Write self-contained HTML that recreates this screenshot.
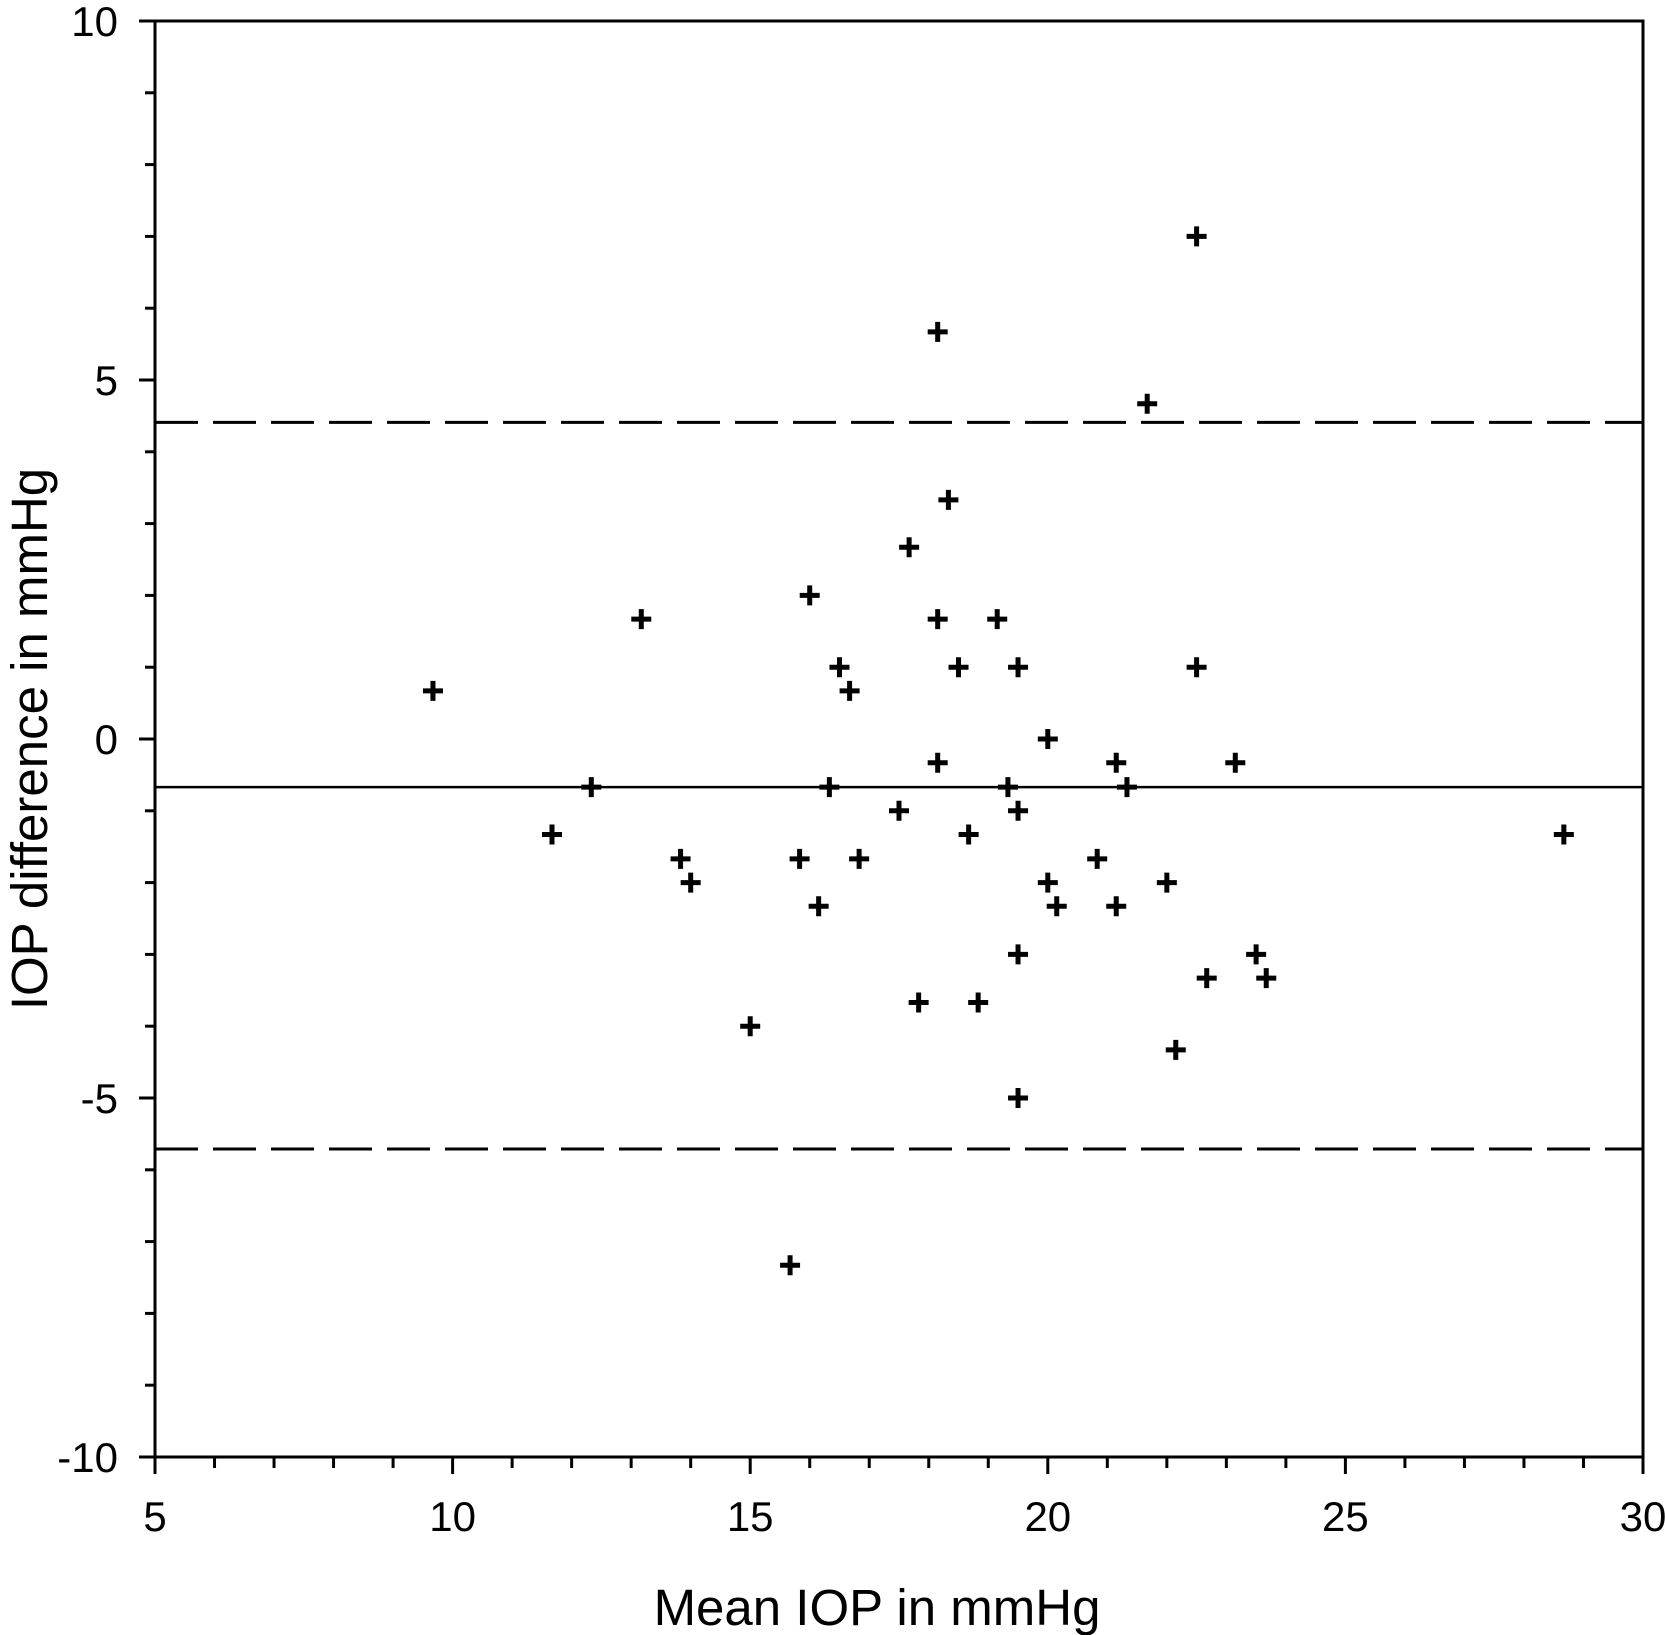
<!DOCTYPE html>
<html><head><meta charset="utf-8"><style>
html,body{margin:0;padding:0;background:#fff;}
svg{display:block;}
text{font-family:"Liberation Sans",Arial,sans-serif;fill:#000;}
</style></head><body>
<svg id="chart" width="1665" height="1635" viewBox="0 0 1665 1635" xmlns="http://www.w3.org/2000/svg">
<g id="axes"></g>
<g id="lines"></g>
<g id="points"></g>
<text x="877" y="1625" font-size="51" text-anchor="middle">Mean IOP in mmHg</text>
<text transform="translate(47,739) rotate(-90)" font-size="51" text-anchor="middle">IOP difference in mmHg</text>
</svg>
<script>
const xMeans = [22.5,18.15,21.67,18.33,17.67,16,13.17,18.15,19.15,16.5,18.5,19.5,22.5,9.67,16.67,20,18.15,21.15,23.15,12.33,16.33,19.33,21.33,17.5,19.5,11.67,18.67,28.67,13.83,15.83,16.83,20.83,14,20,22,16.15,20.15,21.15,19.5,23.5,22.67,23.67,17.83,18.83,15,22.15,19.5,15.67];
const yDiffs = [7,5.67,4.67,3.33,2.67,2,1.67,1.67,1.67,1,1,1,1,0.67,0.67,0,-0.33,-0.33,-0.33,-0.67,-0.67,-0.67,-0.67,-1,-1,-1.33,-1.33,-1.33,-1.67,-1.67,-1.67,-1.67,-2,-2,-2,-2.33,-2.33,-2.33,-3,-3,-3.33,-3.33,-3.67,-3.67,-4,-4.33,-5,-7.33];
const meanDiff = -0.67;
const limitsOfAgreement = [4.41, -5.71];
const xTickLabels = [5,10,15,20,25,30];
const yTickLabels = [10,5,0,-5,-10];

const L=155,R=1643,T=21,B=1457;
const X=v=>L+(v-5)/25*(R-L);
const Y=v=>T+(10-v)/20*(B-T);
const NS='http://www.w3.org/2000/svg';
function mk(tag,attrs,parent){const e=document.createElementNS(NS,tag);for(const k in attrs)e.setAttribute(k,attrs[k]);parent.appendChild(e);return e;}
const ax=document.getElementById('axes');
let f=mk('rect',{x:L,y:T,width:R-L,height:B-T,fill:'none',stroke:'#000','stroke-width':3},ax);


for(let v=5;v<=30;v++){const major=v%5===0;
 let t=mk('line',{x1:X(v),x2:X(v),y1:B,y2:B+(major?17:11),stroke:'#000','stroke-width':3},ax);
 
 }
for(let v=-10;v<=10;v++){const major=v%5===0;
 let t=mk('line',{x1:L-(major?16:10),x2:L,y1:Y(v),y2:Y(v),stroke:'#000','stroke-width':3},ax);
 
 }
xTickLabels.forEach(v=>{let t=mk('text',{x:X(v),y:1531,'font-size':42,'text-anchor':'middle'},ax);t.textContent=v;
 
 });
yTickLabels.forEach(v=>{let t=mk('text',{x:118,y:Y(v)+15,'font-size':42,'text-anchor':'end'},ax);t.textContent=v;
 
 });
const lg=document.getElementById('lines');
let m=mk('line',{x1:L,x2:R,y1:Y(meanDiff),y2:Y(meanDiff),stroke:'#000','stroke-width':2.5},lg);


limitsOfAgreement.forEach(v=>{let d=mk('line',{x1:L,x2:R,y1:Y(v),y2:Y(v),stroke:'#000','stroke-width':3,'stroke-dasharray':'43 15'},lg);
 
 });
const pg=document.getElementById('points');
xMeans.forEach((xv,i)=>{const cx=X(xv),cy=Y(yDiffs[i]);
 let p=mk('path',{d:`M${cx-10},${cy}H${cx+10}M${cx},${cy-10}V${cy+10}`,stroke:'#000','stroke-width':5},pg);
 
 });
</script>
</body></html>
